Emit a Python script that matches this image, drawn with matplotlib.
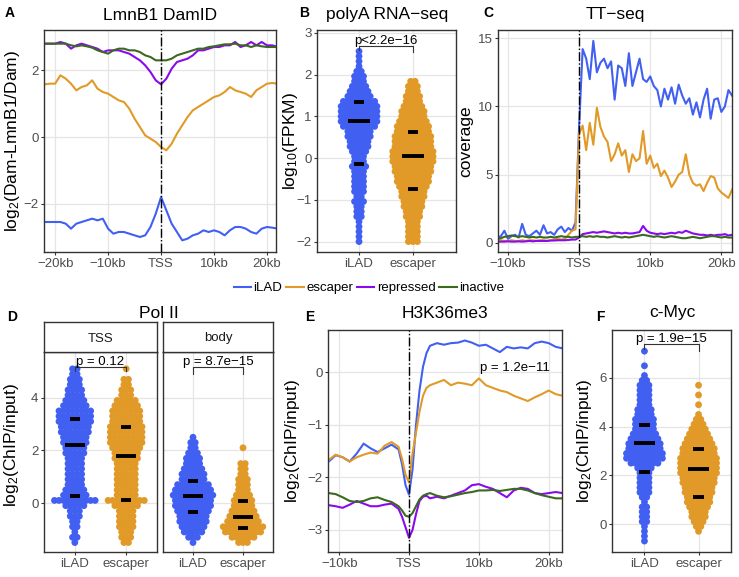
import numpy as np
import matplotlib
matplotlib.use('Agg')
import matplotlib.pyplot as plt
from matplotlib.lines import Line2D

plt.rcParams['font.family'] = ['Liberation Sans', 'DejaVu Sans']
plt.rcParams['mathtext.fontset'] = 'custom'
plt.rcParams['mathtext.rm'] = 'Liberation Sans'
plt.rcParams['mathtext.it'] = 'Liberation Sans'

W, H = 739, 577

groups = ['iLAD', 'escaper', 'repressed', 'inactive']
colors = {'iLAD': '#4160F2', 'escaper': '#E19A28', 'repressed': '#8A0AEE', 'inactive': '#3B6A1F'}

# ---- A: LmnB1 DamID profiles (kb around TSS) ----
a_kb = list(range(-22, 23))
a_ilad = [-2.55, -2.55, -2.55, -2.55, -2.6, -2.75, -2.6, -2.55, -2.5, -2.45, -2.5, -2.45, -2.75, -2.9, -2.85,
          -2.85, -2.9, -2.95, -3.0, -2.95, -2.7, -2.3, -1.8, -2.2, -2.6, -2.85, -3.1, -3.05, -2.95, -2.9,
          -2.8, -2.85, -2.8, -2.85, -2.95, -2.8, -2.7, -2.7, -2.75, -2.85, -2.9, -2.75, -2.7, -2.72, -2.75]
a_escaper = [1.58, 1.6, 1.6, 1.85, 1.75, 1.6, 1.4, 1.5, 1.55, 1.7, 1.45, 1.35, 1.3, 1.2, 1.1, 1.05, 0.85,
             0.55, 0.3, 0.05, -0.05, -0.15, -0.3, -0.4, -0.2, 0.1, 0.35, 0.6, 0.8, 0.9, 1.0, 1.1, 1.2, 1.25,
             1.35, 1.5, 1.4, 1.35, 1.3, 1.2, 1.4, 1.5, 1.6, 1.62, 1.6]
a_repressed = [2.8, 2.8, 2.8, 2.85, 2.8, 2.65, 2.75, 2.8, 2.75, 2.7, 2.65, 2.55, 2.6, 2.6, 2.6, 2.55, 2.5,
               2.4, 2.3, 2.15, 1.95, 1.7, 1.58, 1.75, 2.05, 2.25, 2.3, 2.35, 2.45, 2.6, 2.6, 2.65, 2.7, 2.7,
               2.75, 2.75, 2.85, 2.7, 2.75, 2.85, 2.75, 2.85, 2.75, 2.75, 2.7]
a_inactive = [2.8, 2.8, 2.8, 2.8, 2.8, 2.75, 2.72, 2.75, 2.72, 2.68, 2.6, 2.55, 2.5, 2.6, 2.65, 2.65, 2.6,
              2.6, 2.55, 2.45, 2.4, 2.3, 2.3, 2.3, 2.35, 2.45, 2.5, 2.55, 2.6, 2.65, 2.65, 2.7, 2.72, 2.75,
              2.78, 2.78, 2.8, 2.75, 2.75, 2.7, 2.75, 2.72, 2.7, 2.7, 2.7]

# ---- C: TT-seq coverage ----
c_kb = list(np.arange(-11.5, 21.75, 0.5))
c_ilad = [0.4, 0.5, 0.9, 0.3, 0.5, 0.6, 0.4, 1.4, 0.6, 0.5, 0.7, 0.9, 0.6, 1.3, 0.7, 0.8, 0.6, 1.0, 1.2,
          0.8, 1.1, 0.9, 1.5,
          8.5, 14.2, 13.5, 12.0, 14.8, 12.5, 13.2, 13.5, 12.8, 13.3, 10.5, 13.0, 12.8, 11.5, 13.9, 11.5,
          12.5, 13.5, 12.0, 11.8, 12.2, 11.5, 11.2, 10.0, 11.3, 10.5, 11.4, 10.2, 11.6, 10.8, 10.2, 10.6,
          9.4, 10.3, 9.2, 10.5, 11.3, 9.1, 10.5, 10.6, 9.6, 10.0, 11.2, 10.8]
c_escaper = [0.2, 0.2, 0.15, 0.15, 0.2, 0.15, 0.15, 0.2, 0.15, 0.2, 0.2, 0.15, 0.2, 0.2, 0.15, 0.2, 0.25,
             0.3, 0.25, 0.3, 0.6, 0.9, 1.0,
             8.0, 8.6, 6.8, 8.8, 7.2, 9.9, 8.5, 7.8, 7.4, 6.0, 6.5, 7.3, 6.4, 6.8, 5.2, 6.5, 6.0, 6.2, 8.2,
             5.8, 6.4, 5.5, 5.8, 4.9, 5.3, 4.8, 4.1, 4.5, 5.0, 5.2, 6.5, 5.0, 4.4, 4.2, 4.3, 3.8, 4.4, 4.9,
             4.8, 4.0, 3.7, 3.5, 3.3, 3.9]
c_repressed = [0.1, 0.1, 0.1, 0.12, 0.1, 0.1, 0.12, 0.1, 0.12, 0.15, 0.12, 0.15, 0.15, 0.15, 0.15, 0.18,
               0.18, 0.2, 0.2, 0.2, 0.22, 0.25, 0.25,
               0.4, 0.65, 0.7, 0.75, 0.8, 0.75, 0.8, 0.85, 0.8, 0.75, 0.7, 0.75, 0.7, 0.75, 0.7, 0.7, 0.75,
               0.8, 1.25, 0.9, 0.75, 0.7, 0.65, 0.7, 0.65, 0.7, 0.75, 0.7, 0.8, 0.75, 0.9, 0.8, 0.7, 0.65,
               0.6, 0.6, 0.55, 0.6, 0.55, 0.6, 0.6, 0.65, 0.55, 0.6]
c_inactive = [0.3, 0.35, 0.45, 0.5, 0.55, 0.5, 0.45, 0.5, 0.45, 0.4, 0.45, 0.4, 0.45, 0.4, 0.4, 0.45, 0.4,
              0.45, 0.5, 0.45, 0.45, 0.4, 0.45,
              0.45, 0.5, 0.45, 0.5, 0.45, 0.5, 0.45, 0.45, 0.4, 0.45, 0.5, 0.45, 0.4, 0.45, 0.4, 0.45, 0.5,
              0.55, 0.6, 0.55, 0.5, 0.45, 0.5, 0.45, 0.4, 0.45, 0.5, 0.45, 0.4, 0.35, 0.35, 0.4, 0.45, 0.4,
              0.35, 0.4, 0.45, 0.5, 0.5, 0.45, 0.4, 0.45, 0.4, 0.4]

# ---- E: H3K36me3 profiles ----
e_kb = [-11.5, -10.5, -9.5, -8.5, -7.5, -6.5, -5.5, -4.5, -3.5, -2.5, -1.5, -1.0, -0.5, 0.0, 0.5, 1.0, 1.5,
        2.0, 2.5, 3.0, 4, 5, 6, 7, 8, 9, 10, 11, 12, 13, 14, 15, 16, 17, 18, 19, 20, 21, 22]
e_ilad = [-1.70, -1.58, -1.62, -1.70, -1.55, -1.36, -1.45, -1.52, -1.45, -1.38, -1.47, -1.75, -2.15, -2.33,
          -1.85, -1.0, -0.35, 0.1, 0.36, 0.5, 0.55, 0.52, 0.55, 0.56, 0.60, 0.56, 0.50, 0.52, 0.45, 0.38,
          0.48, 0.45, 0.47, 0.45, 0.55, 0.58, 0.55, 0.48, 0.45]
e_escaper = [-1.67, -1.57, -1.62, -1.70, -1.62, -1.57, -1.53, -1.55, -1.40, -1.33, -1.42, -1.65, -1.95,
             -2.1, -1.55, -1.15, -0.75, -0.45, -0.3, -0.25, -0.2, -0.15, -0.25, -0.2, -0.22, -0.25, -0.12,
             -0.25, -0.3, -0.35, -0.38, -0.45, -0.5, -0.55, -0.48, -0.42, -0.35, -0.42, -0.45]
e_repressed = [-2.53, -2.55, -2.58, -2.52, -2.45, -2.50, -2.55, -2.55, -2.52, -2.50, -2.6, -2.75, -2.95,
               -3.15, -3.0, -2.7, -2.45, -2.37, -2.35, -2.4, -2.37, -2.4, -2.35, -2.3, -2.25, -2.15, -2.13,
               -2.18, -2.22, -2.3, -2.38, -2.25, -2.2, -2.22, -2.3, -2.32, -2.3, -2.28, -2.3]
e_inactive = [-2.3, -2.32, -2.38, -2.45, -2.47, -2.45, -2.4, -2.38, -2.43, -2.47, -2.55, -2.63, -2.73,
              -2.75, -2.68, -2.55, -2.42, -2.35, -2.32, -2.3, -2.35, -2.38, -2.36, -2.33, -2.3, -2.28,
              -2.25, -2.25, -2.24, -2.26, -2.24, -2.22, -2.22, -2.25, -2.3, -2.34, -2.37, -2.4, -2.4]

# ---- B: polyA RNA-seq, dots per value bin ----
b_levels = np.round(np.arange(-2.0, 2.6, 0.12), 2)
b_ilad_counts = [1, 1, 1, 1, 1, 2, 2, 2, 3, 2, 3, 3, 3, 3, 3, 4, 3, 3, 4, 5, 5, 6, 6, 8, 9, 9, 9, 9, 8, 6,
                 5, 4, 3, 3, 2, 1, 1, 1, 1]
b_esc_counts = [3, 3, 3, 3, 3, 4, 4, 5, 5, 6, 6, 7, 8, 8, 9, 9, 10, 10, 10, 9, 9, 9, 8, 8, 7, 6, 6, 5, 4,
                4, 3, 3, 2, 0, 0, 0, 0, 0, 0]
b_stats = {'iLAD': (0.9, -0.15, 1.35), 'escaper': (0.05, -0.73, 0.63)}

# ---- D: Pol II (TSS / body) ----
d_levels = np.round(np.arange(-1.5, 5.15, 0.2), 2)
d_tss_ilad = [1, 2, 1, 2, 2, 3, 3, 5, 10, 6, 5, 4, 4, 4, 4, 4, 4, 5, 5, 6, 6, 7, 7, 8, 8, 8, 6, 5, 4, 4,
              3, 3, 2, 2]
d_tss_esc = [2, 3, 3, 4, 4, 4, 4, 6, 9, 5, 5, 5, 5, 5, 5, 5, 6, 6, 7, 8, 8, 8, 8, 7, 7, 7, 6, 5, 3, 3,
             2, 2, 0, 1]
d_body_ilad = [1, 3, 5, 6, 7, 7, 8, 9, 9, 10, 9, 8, 6, 6, 5, 4, 4, 3, 2, 2, 1, 0, 0, 0, 0, 0, 0, 0, 0, 0,
               0, 0, 0, 0]
d_body_esc = [3, 6, 9, 10, 8, 7, 6, 5, 5, 4, 3, 3, 3, 2, 2, 2, 0, 0, 1, 0, 0, 0, 0, 0, 0, 0, 0, 0, 0, 0,
              0, 0, 0, 0]
d_stats = {'TSS': {'iLAD': (2.2, 0.28, 3.18), 'escaper': (1.79, 0.11, 2.88)},
           'body': {'iLAD': (0.28, -0.35, 0.84), 'escaper': (-0.52, -0.93, 0.08)}}

# ---- F: c-Myc ----
f_levels = np.round(np.arange(-0.7, 7.15, 0.2), 2)
f_ilad_counts = [1, 1, 1, 1, 2, 2, 2, 2, 1, 2, 3, 3, 3, 3, 3, 4, 7, 9, 9, 8, 8, 7, 6, 5, 5, 5, 4, 4, 3, 3,
                 3, 3, 3, 2, 1, 0, 1, 0, 0, 1]
f_esc_counts = [0, 0, 1, 2, 3, 4, 4, 5, 6, 6, 7, 7, 8, 8, 9, 9, 9, 9, 8, 8, 7, 6, 5, 4, 3, 2, 1, 0, 1, 0,
                1, 0, 1, 0, 0, 0, 0, 0, 0, 0]
f_stats = {'iLAD': (3.31, 2.12, 4.08), 'escaper': (2.25, 1.12, 3.1)}


def px_axes(fig, x0, y0, x1, y1):
    return fig.add_axes([x0 / W, 1 - y1 / H, (x1 - x0) / W, (y1 - y0) / H])


def style(ax):
    for s in ax.spines.values():
        s.set_color('#333333')
        s.set_linewidth(1.0)
    ax.grid(True, color='#E5E5E5', lw=0.9)
    ax.set_axisbelow(True)
    ax.tick_params(length=2.5, width=0.8, color='#333333', labelcolor='#4D4D4D', labelsize=9.5, pad=1.5)


def swarm(ax, xc, levels, counts, dx, color):
    xs, ys = [], []
    for lv, n in zip(levels, counts):
        for i in range(n):
            xs.append(xc + (i - (n - 1) / 2) * dx)
            ys.append(lv)
    ax.scatter(xs, ys, s=24, color=color, edgecolors='none', zorder=2)


def stat_bars(ax, xc, stats, wm=0.2, wq=0.1):
    med, q1, q3 = stats
    ax.hlines(med, xc - wm, xc + wm, color='black', lw=2.8, zorder=3)
    ax.hlines([q1, q3], xc - wq, xc + wq, color='black', lw=2.8, zorder=3)


def bracket(ax, y, y1, y2, label, x1=1, x2=2):
    ax.plot([x1, x1, x2, x2], [y1, y, y, y2], color='#333333', lw=0.8, zorder=3)
    ax.text((x1 + x2) / 2, y - 0.005 * (ax.get_ylim()[1] - ax.get_ylim()[0]), label,
            ha='center', va='bottom', fontsize=9.5)


fig = plt.figure(figsize=(W / 100, H / 100), dpi=100)

kb_ticks_a = [-20, -10, 0, 10, 20]
kb_labels_a = ['\u221220kb', '\u221210kb', 'TSS', '10kb', '20kb']
kb_ticks_c = [-10, 0, 10, 20]
kb_labels_c = ['\u221210kb', 'TSS', '10kb', '20kb']

# A
ax = px_axes(fig, 44, 30, 276, 252)
style(ax)
for g, v in zip(groups, [a_ilad, a_escaper, a_repressed, a_inactive]):
    ax.plot(a_kb, v, color=colors[g], lw=1.5)
ax.axvline(0, color='black', lw=1.0, ls='-.', zorder=4)
ax.set_xlim(-22.1, 21.7)
ax.set_ylim(-3.45, 3.21)
ax.set_xticks(kb_ticks_a, kb_labels_a)
ax.set_yticks([-2, 0, 2])

# B
ax = px_axes(fig, 317, 30, 456, 252)
style(ax)
ax.set_xlim(0.22, 2.8)
ax.set_ylim(-2.25, 3.07)
swarm(ax, 1, b_levels, b_ilad_counts, 0.083, colors['iLAD'])
swarm(ax, 2, b_levels, b_esc_counts, 0.083, colors['escaper'])
stat_bars(ax, 1, b_stats['iLAD'])
stat_bars(ax, 2, b_stats['escaper'])
bracket(ax, 2.68, 2.6, 2.55, 'p<2.2e\u221216')
ax.set_xticks([1, 2], ['iLAD', 'escaper'])
ax.set_yticks([-2, -1, 0, 1, 2, 3])

# C
ax = px_axes(fig, 498, 30, 732, 252)
style(ax)
for g, v in zip(groups, [c_ilad, c_escaper, c_repressed, c_inactive]):
    ax.plot(c_kb, v, color=colors[g], lw=1.5)
ax.axvline(0, color='black', lw=1.0, ls='-.', zorder=4)
ax.set_xlim(-11.4, 21.5)
ax.set_ylim(-0.66, 15.6)
ax.set_xticks(kb_ticks_c, kb_labels_c)
ax.set_yticks([0, 5, 10, 15])

# D
d_counts = {'TSS': (d_tss_ilad, d_tss_esc), 'body': (d_body_ilad, d_body_esc)}
d_pvals = {'TSS': ('p = 0.12', 5.0, 5.0), 'body': ('p = 8.7e\u221215', 4.9, 4.9)}
for i, (name, (x0, x1)) in enumerate(zip(['TSS', 'body'], [(44, 157), (163, 273)])):
    ax = px_axes(fig, x0, 352, x1, 552)
    style(ax)
    ax.set_xlim(0.4, 2.6)
    ax.set_ylim(-1.86, 5.74)
    swarm(ax, 1, d_levels, d_counts[name][0], 0.088, colors['iLAD'])
    swarm(ax, 2, d_levels, d_counts[name][1], 0.088, colors['escaper'])
    stat_bars(ax, 1, d_stats[name]['iLAD'])
    stat_bars(ax, 2, d_stats[name]['escaper'])
    lab, ya, yb = d_pvals[name]
    bracket(ax, 5.16, ya, yb, lab)
    ax.set_xticks([1, 2], ['iLAD', 'escaper'])
    ax.set_yticks([0, 2, 4])
    if i == 1:
        ax.tick_params(labelleft=False, length=0, axis='y')
    st = px_axes(fig, x0, 322, x1, 352)
    st.set_xticks([])
    st.set_yticks([])
    for s in st.spines.values():
        s.set_color('#333333')
        s.set_linewidth(1.0)
    st.text(0.5, 0.45, name, ha='center', va='center', fontsize=9.5, color='#1A1A1A',
            transform=st.transAxes)

# E
ax = px_axes(fig, 328, 330, 562, 552)
style(ax)
for g, v in zip(groups, [e_ilad, e_escaper, e_repressed, e_inactive]):
    ax.plot(e_kb, v, color=colors[g], lw=1.5)
ax.axvline(0, color='black', lw=1.0, ls='-.', zorder=4)
ax.set_xlim(-11.6, 21.9)
ax.set_ylim(-3.42, 0.8)
ax.set_xticks(kb_ticks_c, kb_labels_c)
ax.set_yticks([-3, -2, -1, 0])
ax.text(15.1, 0.08, 'p = 1.2e\u221211', ha='center', va='center', fontsize=9.5)

# F
ax = px_axes(fig, 612, 330, 731, 552)
style(ax)
ax.set_xlim(0.4, 2.6)
ax.set_ylim(-1.15, 7.97)
swarm(ax, 1, f_levels, f_ilad_counts, 0.083, colors['iLAD'])
swarm(ax, 2, f_levels, f_esc_counts, 0.083, colors['escaper'])
stat_bars(ax, 1, f_stats['iLAD'])
stat_bars(ax, 2, f_stats['escaper'])
bracket(ax, 7.4, 7.2, 7.1, 'p = 1.9e\u221215')
ax.set_xticks([1, 2], ['iLAD', 'escaper'])
ax.set_yticks([0, 2, 4, 6])

# titles, panel letters, y labels
titles = [('LmnB1 DamID', 160, 15), ('polyA RNA\u2212seq', 387, 15), ('TT\u2212seq', 615, 15),
          ('Pol II', 159, 313), ('H3K36me3', 445, 313), ('c-Myc', 672, 313)]
for t, x, y in titles:
    fig.text(x / W, 1 - y / H, t, ha='center', va='center', fontsize=12.5)
letters = [('A', 10, 13), ('B', 304, 13), ('C', 488, 13), ('D', 12, 317), ('E', 310, 317), ('F', 600, 317)]
for t, x, y in letters:
    fig.text(x / W, 1 - y / H, t, ha='center', va='center', fontsize=10, fontweight='bold')
ylabels = [('log$_2$(Dam-LmnB1/Dam)', 13, 141), ('log$_{10}$(FPKM)', 291, 141), ('coverage', 466, 141),
           ('log$_2$(ChIP/input)', 12, 445), ('log$_2$(ChIP/input)', 293, 441),
           ('log$_2$(ChIP/input)', 585, 441)]
for t, x, y in ylabels:
    fig.text(x / W, 1 - y / H, t, ha='center', va='center', rotation=90, fontsize=12.5)

handles = [Line2D([], [], color=colors[g], lw=1.5) for g in groups]
fig.legend(handles, groups, loc='center', bbox_to_anchor=(369 / W, 1 - 288 / H), ncol=4, frameon=False,
           fontsize=9.5, handlelength=1.3, handletextpad=0.2, columnspacing=0.3)

fig.savefig('out.png', dpi=100)
